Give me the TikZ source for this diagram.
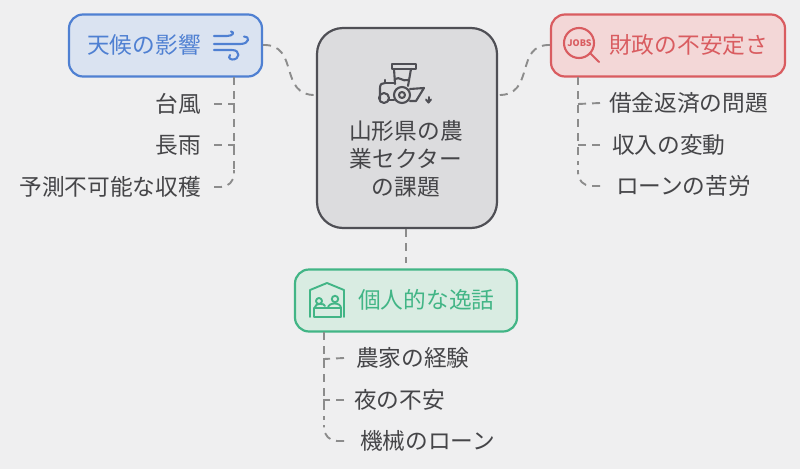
\documentclass[tikz,border=0pt]{standalone}
\usepackage{fontspec}
\setmainfont{Noto Sans CJK JP}
\definecolor{bgc}{HTML}{EFEFF0}
\definecolor{conn}{HTML}{8C8C8C}
\definecolor{ink}{HTML}{454548}
\definecolor{cenb}{HTML}{4F4F55}
\definecolor{cenf}{HTML}{DCDCDE}
\definecolor{blueb}{HTML}{4F80D2}
\definecolor{bluef}{HTML}{DAE3F1}
\definecolor{redb}{HTML}{D95C60}
\definecolor{redf}{HTML}{F3D7D7}
\definecolor{greenb}{HTML}{42B586}
\definecolor{greenf}{HTML}{D9ECE2}
\tikzset{
  x=1pt,y=-1pt,
  card/.style={draw,line width=2.2pt,rounded corners=14pt,inner sep=0pt},
  link/.style={draw=conn,line width=1.9pt,dash pattern=on 8pt off 6pt},
  leaf/.style={text=ink,font=\fontsize{22.7}{26}\selectfont,inner sep=0pt},
  head/.style={font=\fontsize{22.7}{26}\selectfont,inner sep=0pt},
  icon/.style={line width=2.1pt,line cap=round,line join=round},
}
\begin{document}
\begin{tikzpicture}
\useasboundingbox[fill=bgc] (0,0) rectangle (800,469);
% boxes
\node[card,draw=cenb,fill=cenf,rounded corners=26pt,minimum width=180pt,minimum height=200pt] (center) at (407,128) {};
\node[card,draw=blueb,fill=bluef,minimum width=193pt,minimum height=62pt] (weather) at (165.5,45.5) {};
\node[card,draw=redb,fill=redf,minimum width=234pt,minimum height=62pt] (finance) at (668,45.5) {};
\node[card,draw=greenb,fill=greenf,minimum width=222pt,minimum height=62pt] (story) at (406,300.5) {};
% texts
\node[text=ink,align=center,font=\fontsize{22.7}{28}\selectfont,inner sep=0pt] (ctext) at (406,159) {山形県の農\\業セクター\\の課題};
\node[head,text=blueb,anchor=west] (wtext) at (87,45) {天候の影響};
\node[head,text=redb,anchor=west] (ftext) at (609,45) {財政の不安定さ};
\node[head,text=greenb,anchor=west] (stext) at (358,300) {個人的な逸話};
% trunk coordinates
\coordinate (wt) at (234,77);
\coordinate (ft) at (578,77);
\coordinate (st) at (324,332);
% leaves
\node[leaf,anchor=east,outer xsep=13pt] (w1) at (214,104) {台風};
\node[leaf,anchor=east,outer xsep=13pt] (w2) at (214,145) {長雨};
\node[leaf,anchor=east,outer xsep=13pt] (w3) at (214,187) {予測不可能な収穫};
\node[leaf,anchor=west,outer xsep=9pt] (f1) at (600,103) {借金返済の問題};
\node[leaf,anchor=west,outer xsep=12pt] (f2) at (600,145) {収入の変動};
\node[leaf,anchor=west,outer xsep=16pt] (f3) at (600,186) {ローンの苦労};
\node[leaf,anchor=west,outer xsep=12pt] (s1) at (344,358) {農家の経験};
\node[leaf,anchor=west,outer xsep=10pt] (s2) at (344,400) {夜の不安};
\node[leaf,anchor=west,outer xsep=16pt] (s3) at (344,441) {機械のローン};
% center links
\draw[link] (weather.east) ++(0,-0.5) .. controls (300,44) and (278,96) .. ([yshift=33pt]center.west);
\draw[link] (finance.west) ++(0,-0.5) .. controls (514,44) and (536,96) .. ([yshift=33pt]center.east);
\draw[link] (center.south) ++(-1,0) -- ++(0,34);
% leaf links
\draw[link] (wt) -- (234,174);
\draw[link] (w1.east) -- (234,104) -- (234,112);
\draw[link] (w2.east) -- (234,145) -- (234,153);
\draw[link,rounded corners=13pt] (w3.east) -- (234,187) -- (234,170);
\draw[link] (ft) -- (578,165);
\draw[link] (f1.west) -- (578,104) -- (578,112);
\draw[link] (f2.west) -- (578,145) -- (578,153);
\draw[link,rounded corners=13pt] (f3.west) -- (578,186) -- (578,170);
\draw[link] (st) -- (324,420);
\draw[link] (s1.west) -- (324,359) -- (324,367);
\draw[link] (s2.west) -- (324,400) -- (324,408);
\draw[link,rounded corners=13pt] (s3.west) -- (324,441) -- (324,425);
% wind icon
\begin{scope}[icon,draw=blueb]
\draw (214,36) -- (227,36) .. controls (233,36) and (235,32) .. (231,31.5);
\draw (214,44) -- (240,44) .. controls (250,44) and (250,36) .. (244,36.5);
\draw (214,50) -- (232,50) .. controls (241,50) and (240,60) .. (232,59.5) .. controls (229,59) and (228,56) .. (230,55);
\end{scope}
% jobs icon
\begin{scope}[icon,draw=redb]
\draw (579,43) circle (15);
\draw (590,53) -- (599,62);
\end{scope}
\node[text=redb,font=\fontsize{9}{9}\selectfont\bfseries,inner sep=0pt] (jobs) at (579.5,43.5) {JOBS};
% house icon
\begin{scope}[icon,draw=greenb,line width=1.9pt]
\draw (310,317) -- (310,290) -- (327,283) -- (344,290) -- (344,317);
\draw (314,317) -- (314,308) -- (341,308) -- (341,317) -- cycle;
\draw (319,301) circle (3);
\draw (335,299) circle (3.2);
\draw (315,307) .. controls (315,303) and (325,303) .. (325,306);
\draw (328,308) .. controls (328,302) and (341,302) .. (341,308);
\end{scope}
% tractor icon
\begin{scope}[icon,draw=cenb]
\draw (392,64) rectangle (416,69);
\draw (394,69) -- (395,84);
\draw (411,69) -- (408,86);
\draw (395,79) .. controls (400,76) and (402,82) .. (408,80);
\draw (385,80) -- (385,83) -- (395,83);
\draw (380,99) -- (380,88) .. controls (380,84) and (382,83) .. (385,83);
\draw (389,100) -- (394,100);
\draw (384,98) circle (5);
\draw (402,95) circle (8);
\draw (402,95) circle (3);
\draw (410,89) -- (424,88) -- (416,101) -- (410,101);
\draw[line width=2pt] (428.5,97) -- (428.5,102);
\draw[line width=2pt] (426,99.5) -- (428.5,102.5) -- (431,99.5);
\end{scope}
\end{tikzpicture}
\end{document}
